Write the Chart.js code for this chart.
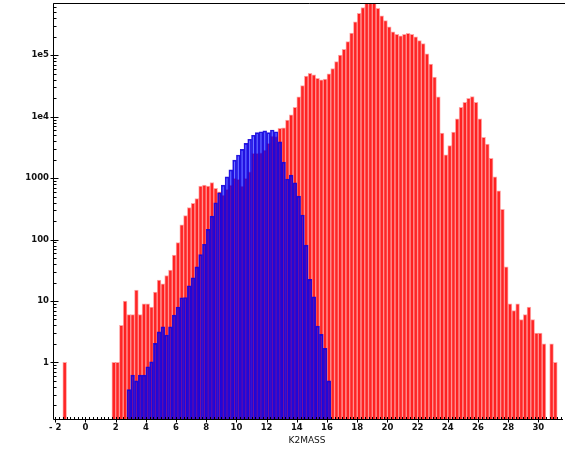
<!DOCTYPE html>
<html>
<head>
<meta charset="utf-8">
<script src="https://cdn.jsdelivr.net/npm/chart.js@4.4.1/dist/chart.umd.min.js"></script>
<style>
  html, body { margin: 0; padding: 0; background: #fff; }
  canvas { display: block; }
</style>
</head>
<body>
<canvas id="hist" width="565" height="454"></canvas>
<script>
// Histogram bin width (magnitudes)
const BIN = 0.25;

// Lower edges of the populated red bins
const redBins = [
  -1.5,
  1.75,
  2, 2.25, 2.5, 2.75, 3, 3.25, 3.5, 3.75,
  4, 4.25, 4.5, 4.75, 5, 5.25, 5.5, 5.75,
  6, 6.25, 6.5, 6.75, 7, 7.25, 7.5, 7.75,
  8, 8.25, 8.5, 8.75, 9, 9.25, 9.5, 9.75,
  10, 10.25, 10.5, 10.75, 11, 11.25, 11.5, 11.75,
  12, 12.25, 12.5, 12.75, 13, 13.25, 13.5, 13.75,
  14, 14.25, 14.5, 14.75, 15, 15.25, 15.5, 15.75,
  16, 16.25, 16.5, 16.75, 17, 17.25, 17.5, 17.75,
  18, 18.25, 18.5, 18.75, 19, 19.25, 19.5, 19.75,
  20, 20.25, 20.5, 20.75, 21, 21.25, 21.5, 21.75,
  22, 22.25, 22.5, 22.75, 23, 23.25, 23.5, 23.75,
  24, 24.25, 24.5, 24.75, 25, 25.25, 25.5, 25.75,
  26, 26.25, 26.5, 26.75, 27, 27.25, 27.5, 27.75,
  28, 28.25, 28.5, 28.75, 29, 29.25, 29.5, 29.75,
  30, 30.25, 30.75, 31
];
const redCounts = [
  1,
  1,
  1, 4, 10, 6, 6, 15, 6, 9,
  9, 8, 14, 22, 19, 26, 32, 56,
  89, 173, 245, 333, 388, 467, 742, 770,
  742, 850, 680, 600, 530, 656, 772, 991,
  955, 743, 991, 1270, 2540, 2540, 2590, 2870,
  3690, 4850, 4730, 6470, 6600, 8800, 10700, 14200,
  21000, 32000, 46000, 51000, 48000, 42000, 40000, 41000,
  50000, 61000, 79000, 101000, 125000, 167000, 230000, 350000,
  480000, 600000, 750000, 850000, 750000, 580000, 440000, 366000,
  290000, 240000, 220000, 208000, 220000, 228000, 220000, 200000,
  173000, 155000, 106000, 72000, 44000, 21000, 5400, 2400,
  3400, 5600, 9200, 14200, 17200, 20000, 21200, 17200,
  9200, 4600, 3600, 2100, 1050, 624, 310, 36,
  9, 7, 9, 5, 6, 8, 5, 3,
  3, 2, 2, 1
];

// Lower edges of the populated blue bins
const blueBins = [
  2.75, 3, 3.25, 3.5, 3.75,
  4, 4.25, 4.5, 4.75, 5, 5.25, 5.5, 5.75,
  6, 6.25, 6.5, 6.75, 7, 7.25, 7.5, 7.75,
  8, 8.25, 8.5, 8.75, 9, 9.25, 9.5, 9.75,
  10, 10.25, 10.5, 10.75, 11, 11.25, 11.5, 11.75,
  12, 12.25, 12.5, 12.75, 13, 13.25, 13.5, 13.75,
  14, 14.25, 14.5, 14.75, 15, 15.25, 15.5, 15.75,
  16
];
const blueCounts = [
  0.36, 0.62, 0.5, 0.62, 0.62,
  0.85, 1.02, 2.04, 3.15, 3.8, 2.8, 3.8, 5.9,
  8, 11.3, 11.4, 17.7, 23.9, 36, 57, 84,
  147, 241, 398, 578, 772, 1050, 1360, 1970,
  2380, 2940, 3690, 4300, 5000, 5500, 5700, 5900,
  5500, 6070, 5700, 3900, 1820, 967, 1120, 841,
  511, 251, 81, 22.5, 11.7, 3.9, 2.86, 1.69,
  0.5
];

// Axis tick labels
const xTickValues = [-2, 0, 2, 4, 6, 8, 10, 12, 14, 16, 18, 20, 22, 24, 26, 28, 30];
const xTickText = ['- 2', '0', '2', '4', '6', '8', '10', '12', '14', '16', '18', '20', '22', '24', '26', '28', '30'];
const yTickValues = [1, 10, 100, 1000, 1e4, 1e5];
const yTickText = ['1', '10', '100', '1000', '1e4', '1e5'];

const AXIS_FONT = { family: 'DejaVu Sans', size: 8.5, weight: 'bold' };
const TITLE_FONT = { family: 'DejaVu Sans', size: 9 };
const TEXT_COLOR = '#111';

function toPoints(bins, counts) {
  return bins.map((b, i) => ({ x: b + BIN / 2, y: counts[i] }));
}

function labelFor(values, texts, v) {
  const i = values.findIndex(t => Math.abs(t - v) <= Math.abs(t) * 1e-9 + 1e-9);
  return i < 0 ? '' : texts[i];
}

// Axis lines, frame top and tick marks (major and minor) drawn from the scales
const axisFrame = {
  id: 'axisFrame',
  afterDatasetsDraw(chart) {
    const { ctx, chartArea: a, scales: { x, y } } = chart;
    ctx.save();
    ctx.strokeStyle = '#000';
    ctx.lineWidth = 1;
    ctx.beginPath();
    const L = Math.round(a.left) + 0.5;
    const B = Math.round(a.bottom) + 0.5;
    const T = Math.round(a.top) + 0.5;
    ctx.moveTo(L, T); ctx.lineTo(L, B);
    ctx.moveTo(L, B); ctx.lineTo(a.right + 2, B);
    ctx.moveTo(L, T); ctx.lineTo(a.right + 4, T);
    ctx.stroke();

    ctx.beginPath();
    for (let v = -2; v <= x.max; v += BIN) {
      const px = Math.round(x.getPixelForValue(v)) + 0.5;
      const major = Math.abs(v / 2 - Math.round(v / 2)) < 1e-9;
      ctx.moveTo(px, B - 2.5);
      ctx.lineTo(px, B + (major ? 3 : 0.5));
    }
    for (let e = -1; e <= 5; e++) {
      for (let k = 1; k <= 9; k++) {
        const v = k * Math.pow(10, e);
        if (v < y.min || v > y.max) continue;
        const py = Math.round(y.getPixelForValue(v)) + 0.5;
        ctx.moveTo(L - (k === 1 ? 3 : 0), py);
        ctx.lineTo(L + (k === 1 ? 5 : 3), py);
      }
    }
    ctx.stroke();
    ctx.restore();
  }
};

new Chart(document.getElementById('hist'), {
  type: 'bar',
  data: {
    datasets: [
      {
        label: 'blue',
        data: toPoints(blueBins, blueCounts),
        backgroundColor: 'rgba(0, 0, 255, 0.55)',
        borderColor: 'rgba(20, 0, 215, 0.9)',
        borderWidth: 1,
        grouped: false,
        barPercentage: 1,
        categoryPercentage: 1,
        order: 0
      },
      {
        label: 'red',
        data: toPoints(redBins, redCounts),
        backgroundColor: 'rgba(255, 0, 0, 0.85)',
        borderColor: 'rgba(255, 0, 0, 0.35)',
        borderWidth: 1,
        grouped: false,
        barPercentage: 1,
        categoryPercentage: 1,
        order: 1
      }
    ]
  },
  options: {
    responsive: false,
    animation: false,
    devicePixelRatio: 1,
    layout: { padding: { top: 3, right: 4, left: 0, bottom: 0 } },
    plugins: { legend: { display: false }, tooltip: { enabled: false } },
    scales: {
      x: {
        type: 'linear',
        min: -2.15,
        max: 31.5,
        offset: false,
        grid: { display: false, drawTicks: false },
        border: { display: false },
        afterFit(s) { s.height = 35; s.paddingLeft = 0; s.paddingRight = 0; },
        afterBuildTicks(s) { s.ticks = xTickValues.map(v => ({ value: v })); },
        ticks: {
          autoSkip: false,
          maxRotation: 0,
          padding: 4,
          color: TEXT_COLOR,
          font: AXIS_FONT,
          callback: v => labelFor(xTickValues, xTickText, v)
        },
        title: {
          display: true,
          text: 'K2MASS',
          color: TEXT_COLOR,
          font: TITLE_FONT,
          padding: { top: 0, bottom: 8 }
        }
      },
      y: {
        type: 'logarithmic',
        min: 0.12,
        max: 7.1e5,
        grid: { display: false, drawTicks: false },
        border: { display: false },
        afterFit(s) { s.width = 53; s.paddingTop = 0; s.paddingBottom = 0; },
        afterBuildTicks(s) { s.ticks = yTickValues.map(v => ({ value: v })); },
        ticks: {
          autoSkip: false,
          padding: 4,
          color: TEXT_COLOR,
          font: AXIS_FONT,
          callback: v => labelFor(yTickValues, yTickText, v)
        }
      }
    }
  },
  plugins: [axisFrame]
});
</script>
</body>
</html>
